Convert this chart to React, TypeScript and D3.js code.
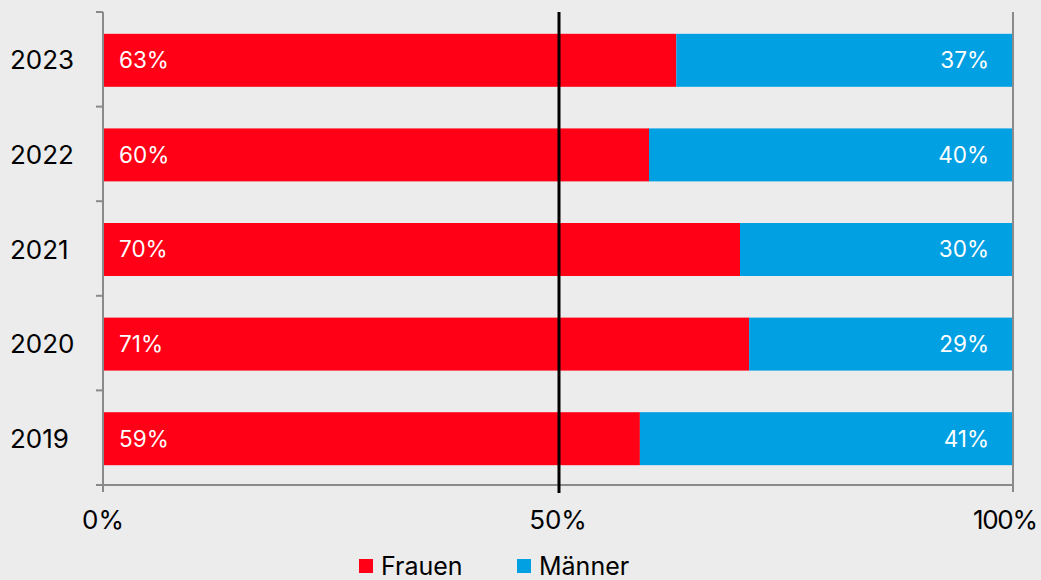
import React from 'react';
import * as d3 from 'd3';

// Share of women / men per year (percent)
const years = ['2023', '2022', '2021', '2020', '2019'];
const frauen = [63, 60, 70, 71, 59];
const maenner = [37, 40, 30, 29, 41];
const xTicks = [0, 50, 100];
const legendLabels = ['Frauen', 'Männer'];

const COLORS = { frauen: '#ff0016', maenner: '#00a0e3' };
const FONT = 'Inter, "Liberation Sans", sans-serif';

export default function App() {
  const width = 1041;
  const height = 580;
  const margin = { top: 12, right: 28, bottom: 95, left: 103 };
  const innerW = width - margin.left - margin.right;
  const innerH = height - margin.top - margin.bottom;

  const x = d3.scaleLinear().domain([0, 100]).range([0, innerW]);
  const y = d3.scaleBand().domain(years).range([0, innerH]).paddingInner(0.44).paddingOuter(0.22);
  const step = y.step();
  const boundaries = d3.range(years.length + 1).map(i => i * step);

  return (
    <svg width={width} height={height} style={{ position: 'absolute', left: 0, top: 0, background: '#ececec', fontFamily: FONT }}>
      <g transform={`translate(${margin.left},${margin.top})`}>
        {/* bars */}
        {years.map((yr, i) => (
          <g key={yr}>
            <rect x={x(0)} y={y(yr)! + 1} width={x(frauen[i]) - x(0)} height={y.bandwidth()} fill={COLORS.frauen} />
            <rect x={x(frauen[i])} y={y(yr)! + 1} width={x(100) - x(frauen[i])} height={y.bandwidth()} fill={COLORS.maenner} />
            <text x={x(0) + 16} y={y(yr)! + 1 + y.bandwidth() / 2} dy="0.35em" fill="#fff" fontSize={22.5}>{frauen[i]}%</text>
            <text x={x(100) - 24} y={y(yr)! + 1 + y.bandwidth() / 2} dy="0.35em" textAnchor="end" fill="#fff" fontSize={22.5}>{maenner[i]}%</text>
            <text x={10 - margin.left} y={y(yr)! + 1 + y.bandwidth() / 2} dy="0.35em" fill="#000" fontSize={26}>{yr}</text>
          </g>
        ))}

        {/* y axis */}
        <line x1={0} x2={0} y1={0} y2={innerH + 7} stroke="#8a8a8a" strokeWidth={2} />
        {boundaries.map((b, i) => (
          <line key={i} x1={-7} x2={0} y1={b} y2={b} stroke="#8a8a8a" strokeWidth={2} />
        ))}
        {/* right border */}
        <line x1={innerW} x2={innerW} y1={0} y2={innerH + 7} stroke="#8a8a8a" strokeWidth={2} />
        {/* x axis */}
        <line x1={-7} x2={innerW} y1={innerH} y2={innerH} stroke="#8a8a8a" strokeWidth={2} />
        {xTicks.map((t, i) => {
          const last = i === xTicks.length - 1;
          return (
            <text key={t} x={last ? width - margin.left - 3 : x(t)} y={innerH + 44}
              textAnchor={last ? 'end' : 'middle'} fill="#000" fontSize={26}
              textLength={last ? 65 : undefined}>{t}%</text>
          );
        })}
        {/* 50% reference line */}
        <line x1={x(50) + 1} x2={x(50) + 1} y1={0} y2={innerH + 8} stroke="#000" strokeWidth={3} />
      </g>

      {/* legend */}
      <g transform="translate(359,559)">
        {legendLabels.map((l, i) => (
          <g key={l} transform={`translate(${i * 158},0)`}>
            <rect x={0} y={0} width={14} height={14} fill={i === 0 ? COLORS.frauen : COLORS.maenner} />
            <text x={22} y={16} fill="#000" fontSize={25}>{l}</text>
          </g>
        ))}
      </g>
    </svg>
  );
}
